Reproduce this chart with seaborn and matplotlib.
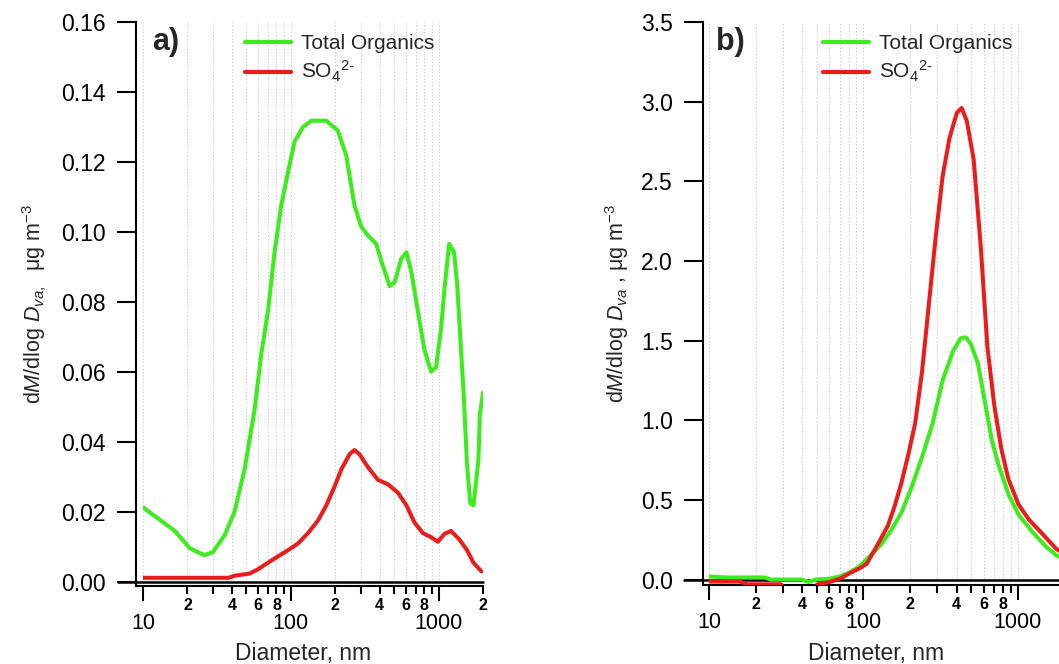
import numpy as np
import pandas as pd
import seaborn as sns
import matplotlib.pyplot as plt
from matplotlib.ticker import FixedLocator, FixedFormatter
from matplotlib.lines import Line2D

# ---- data (diameter in nm, dM/dlogDva in ug m-3) ----
# panel a
dia_a_org = [10, 12.6, 16.4, 20.7, 23.5, 26.1, 29.7, 35.7, 41.6, 48.7, 56.9, 63.1, 70, 77.7,
             86.1, 95.9, 106, 121, 138, 174, 208, 237, 270, 300, 333, 379, 410, 467, 505, 560,
             606, 654, 743, 804, 891, 962, 1040, 1094, 1180, 1275, 1340, 1483, 1560, 1640,
             1724, 1860, 1905, 2000]
org_a = [0.0213, 0.0182, 0.0146, 0.0097, 0.0085, 0.0077, 0.0085, 0.0134, 0.0200, 0.0322,
         0.0492, 0.065, 0.0772, 0.0942, 0.1075, 0.1172, 0.1258, 0.130, 0.1318, 0.1318, 0.129,
         0.122, 0.1075, 0.1015, 0.099, 0.0966, 0.0917, 0.0845, 0.0857, 0.0924, 0.0942, 0.0887,
         0.0747, 0.0662, 0.0601, 0.0614, 0.0723, 0.0832, 0.0966, 0.0942, 0.0845, 0.0528,
         0.0334, 0.0225, 0.0219, 0.0346, 0.048, 0.0541]
dia_a_so4 = [10, 38, 41.6, 52.6, 59.8, 70, 81.8, 95.9, 112, 131, 153, 174, 198, 220, 250, 270,
             292, 333, 389, 455, 532, 606, 688, 783, 891, 991, 1094, 1215, 1380, 1560, 1724, 1955]
so4_a = [0.0012, 0.0012, 0.0018, 0.0024, 0.0036, 0.0055, 0.0073, 0.0091, 0.011, 0.014, 0.0176,
         0.0219, 0.0273, 0.0322, 0.0365, 0.0377, 0.0365, 0.0328, 0.0292, 0.0279, 0.0255, 0.0219,
         0.017, 0.014, 0.0128, 0.0115, 0.0137, 0.0146, 0.0122, 0.0091, 0.0055, 0.003]

# panel b (NaN = gap in the sulfate trace)
dia_b_org = [10, 12.9, 22.7, 25.2, 40, 44.2, 49, 60, 70, 81.7, 95, 111, 130, 152, 176, 205, 239,
             280, 325, 380, 426, 460, 497, 551, 611, 677, 751, 874, 1010, 1240, 1520, 1770, 2000]
org_b = [0.019, 0.013, 0.013, 0.0, 0.0, -0.016, 0.0, 0.005, 0.019, 0.045, 0.085, 0.152, 0.219,
         0.313, 0.42, 0.58, 0.767, 0.98, 1.25, 1.435, 1.515, 1.52, 1.475, 1.355, 1.114, 0.874,
         0.714, 0.527, 0.406, 0.299, 0.206, 0.152, 0.125]
dia_b_so4 = [10, 15.9, 17.6, 29.3, 40, 50.2, 60.2, 70.2, 81.7, 95, 105, 117, 130, 144, 159, 176,
             196, 216, 239, 265, 294, 325, 360, 402, 432, 466, 516, 573, 634, 703, 780, 865, 1005,
             1170, 1440, 1770, 2000]
so4_b = [-0.013, -0.013, -0.03, -0.03, np.nan, -0.03, -0.016, 0.005, 0.04, 0.072, 0.099, 0.179,
         0.259, 0.339, 0.46, 0.607, 0.794, 0.981, 1.30, 1.73, 2.16, 2.53, 2.77, 2.93, 2.96, 2.88,
         2.64, 2.10, 1.46, 1.09, 0.82, 0.633, 0.473, 0.379, 0.286, 0.192, 0.16]

yticks_a = [0.00, 0.02, 0.04, 0.06, 0.08, 0.10, 0.12, 0.14, 0.16]
yticks_b = [0.0, 0.5, 1.0, 1.5, 2.0, 2.5, 3.0, 3.5]
x_major = [10, 100, 1000]
x_major_lbl = ['10', '100', '1000']
x_minor = [20, 30, 40, 50, 60, 70, 80, 90, 200, 300, 400, 500, 600, 700, 800, 900, 2000]
x_minor_lbl = ['2', '', '4', '', '6', '', '8', '', '2', '', '4', '', '6', '', '8', '', '2']
series_names = ['Total Organics', r'SO$_4{}^{2\text{-}}$']

GREEN = '#3cec1c'
RED = '#ec1c1c'

sns.set_theme(style='ticks')
plt.rcParams['font.family'] = ['Liberation Sans', 'DejaVu Sans']
plt.rcParams['mathtext.fontset'] = 'custom'
plt.rcParams['mathtext.rm'] = 'Liberation Sans'
plt.rcParams['mathtext.it'] = 'Liberation Sans:italic'
plt.rcParams['mathtext.bf'] = 'Liberation Sans:bold'

W, H = 1059, 664
fig = plt.figure(figsize=(W / 100, H / 100), dpi=100)
ax_a = fig.add_axes([143 / W, (H - 585.5) / H, 340 / W, 563.5 / H])
ax_b = fig.add_axes([709 / W, (H - 585) / H, 355.5 / W, 563 / H])


def draw(ax, x, y, color):
    df = pd.DataFrame({'dia': x, 'val': y})
    df['seg'] = df['val'].isna().cumsum()  # split line at gaps
    df = df.dropna()
    sns.lineplot(data=df, x='dia', y='val', units='seg', estimator=None, sort=False,
                 color=color, lw=2.9, ax=ax, legend=False, zorder=3)


def dress(ax, ylo, yhi, yticks, yfmt, ylab, ylabpad, off_px, zero_from, nminor):
    ax.set_xscale('log')
    ax.set_xlim(10, 2000)
    ax.set_ylim(ylo, yhi)
    ax.set_yticks(yticks)
    ax.set_yticklabels([yfmt.format(v) for v in yticks])
    ax.xaxis.set_major_locator(FixedLocator(x_major))
    ax.xaxis.set_major_formatter(FixedFormatter(x_major_lbl))
    ax.xaxis.set_minor_locator(FixedLocator(x_minor[:nminor]))
    ax.xaxis.set_minor_formatter(FixedFormatter(x_minor_lbl[:nminor]))
    ax.tick_params(axis='y', which='major', direction='out', length=13.7, width=1.5,
                   pad=8, labelsize=16.5, colors='black')
    ax.tick_params(axis='x', which='major', direction='out', length=10.8, width=1.5,
                   pad=9, labelsize=15.5, colors='black')
    ax.tick_params(axis='x', which='minor', direction='out', length=5.4, width=1.5,
                   pad=3.5, labelsize=11.5, colors='black')
    for lbl in ax.xaxis.get_minorticklabels():
        lbl.set_fontweight('bold')
    for s in ['top', 'right']:
        ax.spines[s].set_visible(False)
    for s in ['left', 'bottom']:
        ax.spines[s].set_linewidth(1.5)
        ax.spines[s].set_color('black')
    ax.spines['left'].set_position(('outward', off_px * 0.72))
    dec_px = ax.get_position().width * W / np.log10(200)
    ax.spines['bottom'].set_bounds(10 ** (1 - off_px / dec_px), 2000)
    ax.axhline(0, xmin=zero_from, xmax=1.0, color='black', lw=1.8, clip_on=False, zorder=2)
    ax.grid(True, axis='x', which='both', color='#c4c4c4', lw=0.8, ls=(0, (1, 2)))
    ax.set_xlabel('Diameter, nm', fontsize=16.5, labelpad=6)
    ax.xaxis.label.set_x(0.47)
    ax.set_ylabel(ylab, fontsize=15.5, labelpad=ylabpad)


draw(ax_a, dia_a_org, org_a, GREEN)
draw(ax_a, dia_a_so4, so4_a, RED)
draw(ax_b, dia_b_org, org_b, GREEN)
draw(ax_b, dia_b_so4, so4_b, RED)

dress(ax_a, -0.001, 0.16, yticks_a, '{:.2f}', r'd$M$/dlog $D_{va,}$  μg m$^{-3}$', 9, 7,
      -0.0735, len(x_minor))
dress(ax_b, -0.0345, 3.5, yticks_b, '{:.1f}', r'd$M$/dlog $D_{va}$ , μg m$^{-3}$', 7.5, 6,
      -0.07, len(x_minor) - 1)

handles = [Line2D([], [], color=GREEN, lw=3), Line2D([], [], color=RED, lw=3)]
for ax, lx, tag, tx in [(ax_a, 245, 'a)', 152), (ax_b, 823, 'b)', 716)]:
    ax.legend(handles, series_names, loc='upper left', frameon=False, fontsize=15,
              bbox_to_anchor=(lx / W, 1 - 34 / H), bbox_transform=fig.transFigure,
              borderpad=0, borderaxespad=0, handlelength=2.2, handletextpad=0.5,
              labelspacing=0.3)
    fig.text(tx / W, 1 - 42 / H, tag, fontsize=22, fontweight='bold', va='center', ha='left')

fig.savefig('out.png', dpi=100)
